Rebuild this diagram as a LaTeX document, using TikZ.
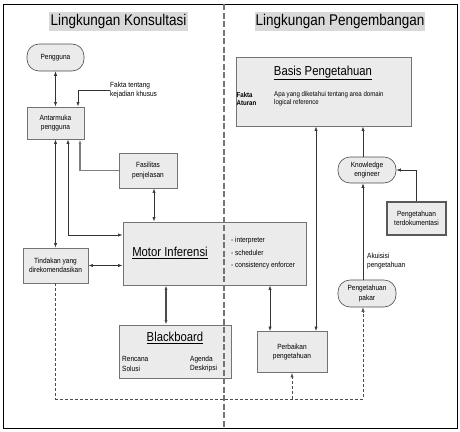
\documentclass[tikz,border=0pt]{standalone}
\usepackage{fontspec}
\setmainfont[FakeStretch=0.87]{Liberation Sans}
\usepackage{tikz}
\usetikzlibrary{arrows.meta}

\begin{document}
\begin{tikzpicture}[x=1pt,y=-1pt,
    >={Latex[length=4.5pt,width=3.2pt]},
    kotak/.style={draw=black!55,line width=0.9pt,fill=black!8,inner sep=0pt,
      align=center,font=\fontsize{7.5}{9.5}\selectfont},
    bulat/.style={kotak,draw=black!70,line width=0.6pt,rounded corners=12pt},
    judul/.style={fill=black!15,inner sep=0pt,font=\fontsize{15.5}{17}\selectfont},
    kecil/.style={inner sep=0pt,align=left,font=\fontsize{7.5}{9.5}\selectfont},
    garis/.style={black!80,line width=0.6pt}]
  \useasboundingbox (0,0) rectangle (460,431);
  \draw[line width=1pt] (3.5,4) rectangle (457,428);

  \node[judul,minimum width=139pt,minimum height=19pt] (konsul) at (118.5,21.5) {Lingkungan Konsultasi};
  \node[judul,minimum width=170pt,minimum height=19pt] (kembang) at (340,21.5) {Lingkungan Pengembangan};

  % lingkungan konsultasi
  \node[bulat,minimum width=57pt,minimum height=27pt] (pengguna) at (55.5,57.5) {Pengguna};
  \node[kotak,minimum width=57pt,minimum height=32pt] (antarmuka) at (55.5,123) {Antarmuka\\pengguna};
  \node[kecil,anchor=west] (fakta) at (110,90) {Fakta tentang\\kejadian khusus};
  \node[kotak,minimum width=58pt,minimum height=35pt] (fasilitas) at (148,170.5) {Fasilitas\\penjelasan};
  \node[kotak,minimum width=183pt,minimum height=63pt] (motor) at (214.5,253.5) {};
  \node[font=\fontsize{13}{15}\selectfont] (motorjdl) at (170,253) {\underline{Motor Inferensi}};
  \node[kecil,anchor=west,font=\fontsize{7.5}{12.5}\selectfont] (motorisi) at (231,253.5)
    {- interpreter\\- scheduler\\- consistency enforcer};
  \node[kotak,minimum width=65pt,minimum height=35pt] (tindakan) at (55.5,265.5) {Tindakan yang\\direkomendasikan};
  \node[kotak,minimum width=112pt,minimum height=53pt] (blackboard) at (175,351.5) {};
  \node[font=\fontsize{13}{15}\selectfont] (bbjdl) at (175,338) {\underline{Blackboard}};
  \node[kecil,anchor=west] (rencana) at (122,364) {Rencana\\Solusi};
  \node[kecil,anchor=west] (agenda) at (190,364) {Agenda\\Deskripsi};

  % lingkungan pengembangan
  \node[kotak,minimum width=175pt,minimum height=69pt] (basis) at (323.5,91.5) {};
  \node[font=\fontsize{13}{15}\selectfont] (basisjdl) at (323,73) {\underline{Basis Pengetahuan}};
  \node[kecil,anchor=west,font=\fontsize{7}{8}\bfseries] (faktaatur) at (236.5,99) {Fakta\\Aturan};
  \node[kecil,anchor=west,font=\fontsize{7}{8}\selectfont] (domain) at (274,99)
    {Apa yang diketahui tentang area domain\\logical reference};
  \node[bulat,minimum width=58pt,minimum height=26pt] (engineer) at (367,170) {Knowledge\\engineer};
  \node[kotak,draw=black!65,line width=1.5pt,minimum width=59pt,minimum height=33pt] (dokumen) at (416.5,218.5) {Pengetahuan\\terdokumentasi};
  \node[kecil,anchor=west] (akuisisi) at (367,261) {Akuisisi\\pengetahuan};
  \node[bulat,minimum width=58pt,minimum height=27pt] (pakar) at (367,293.5) {Pengetahuan\\pakar};
  \node[kotak,minimum width=70pt,minimum height=41pt] (perbaikan) at (292,352) {Perbaikan\\pengetahuan};

  \draw[garis,<->] (pengguna) -- (antarmuka);
  \draw[garis,->] (fakta.west) -| ([xshift=22.5pt]antarmuka.north);
  \draw[garis,<->] (antarmuka) -- (tindakan);
  \draw[garis,<->] ([xshift=12.5pt]antarmuka.south) |- ([yshift=18.5pt]motor.west);
  \draw[black!50,line width=1.2pt,->] (fasilitas.west) -| ([xshift=24.5pt]antarmuka.south);
  \draw[garis,<->] ([xshift=6pt]fasilitas.south) -- ([xshift=-60.5pt]motor.north);
  \draw[garis,<->] (tindakan.east) -- (tindakan.east -| motor.west);
  \draw[black!70,line width=1.2pt,<->] ([xshift=-48.5pt]motor.south) -- ([xshift=-9pt]blackboard.north);
  \draw[garis,<->] ([xshift=55.5pt]motor.south) -- ([xshift=-22pt]perbaikan.north);
  \draw[garis,<->] ([xshift=-7.5pt]basis.south) -- ([xshift=24pt]perbaikan.north);
  \draw[garis,->] ([xshift=-4pt]engineer.north) -- ([xshift=39.5pt]basis.south);
  \draw[garis,->] (dokumen.north) |- (engineer.east);
  \draw[garis,->] ([xshift=-4pt]pakar.north) -- ([xshift=-4pt]engineer.south);

  % umpan balik
  \coordinate (b1) at (55.5,399);
  \coordinate (b2) at (292,399);
  \coordinate (b3) at (363,399);
  \draw[black!70,line width=0.5pt,dash pattern=on 3pt off 2pt,->] (tindakan.south) -- (b1) -- (b3) -- ([xshift=-4pt]pakar.south);
  \draw[black!70,line width=0.5pt,dash pattern=on 3pt off 2pt,->] (b2) -- (perbaikan.south);

  \draw[black!55,line width=1.6pt,dash pattern=on 6pt off 2.5pt] (224,4) -- (224,428);
\end{tikzpicture}
\end{document}
